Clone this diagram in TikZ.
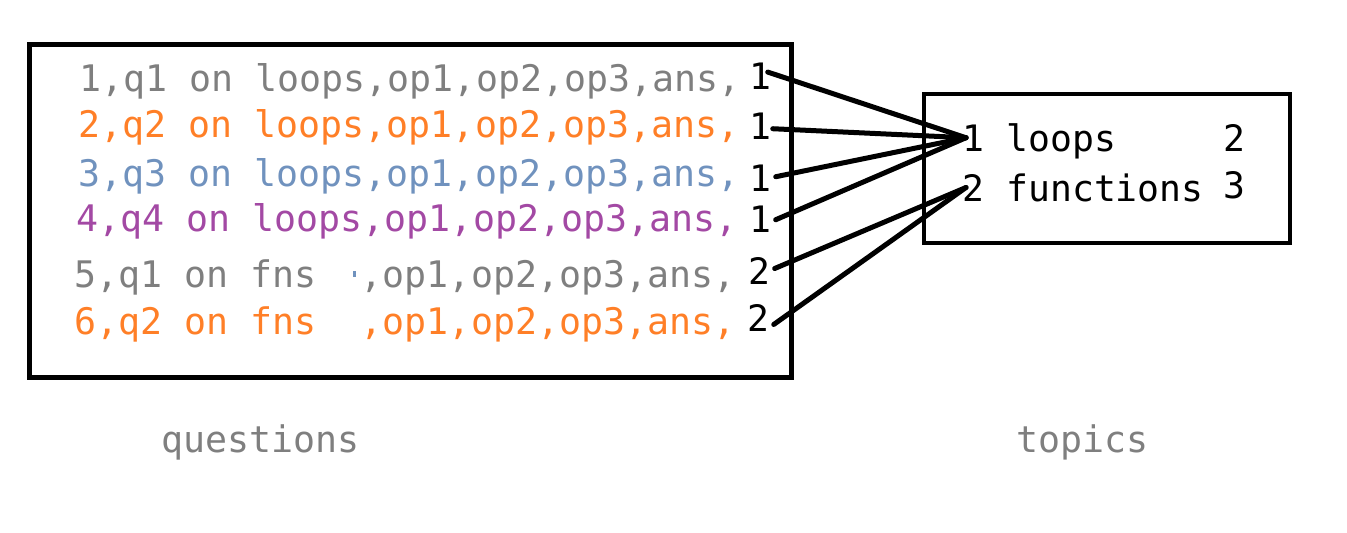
\documentclass[tikz,border=0pt]{standalone}
\usepackage{fontspec}
\newfontfamily\mono{DejaVu Sans Mono}
\definecolor{qgray}{HTML}{7F7F7F}
\definecolor{qorange}{HTML}{FF7F27}
\definecolor{qblue}{HTML}{7092BE}
\definecolor{qpurple}{HTML}{A349A4}
\tikzset{
  rowtext/.style={anchor=base west, inner sep=0pt, font=\mono\fontsize{18.3}{20}\selectfont},
  numtext/.style={anchor=base west, inner sep=0pt, font=\mono\fontsize{18.2}{20}\selectfont},
  lbltext/.style={anchor=base west, inner sep=0pt, text=qgray, font=\mono\fontsize{18.3}{20}\selectfont},
  framebox/.style={draw, line width=2.3pt, inner sep=0pt},
  link/.style={line width=2.5pt, line cap=round},
}
\begin{document}
\begin{tikzpicture}[x=0.5pt,y=-0.5pt]
\useasboundingbox (0,0) rectangle (1347,533);
% boxes
\node[framebox, minimum width=381pt, minimum height=166.5pt] (qbox) at (410.5,211) {};
\node[framebox, minimum width=183pt, minimum height=74.5pt] (tbox) at (1107,168.5) {};
% question rows
\node[rowtext, text=qgray]   (r1) at (79,92)  {1,q1 on loops,op1,op2,op3,ans,};
\node[rowtext, text=qorange] (r2) at (78,138) {2,q2 on loops,op1,op2,op3,ans,};
\node[rowtext, text=qblue]   (r3) at (78,187) {3,q3 on loops,op1,op2,op3,ans,};
\node[rowtext, text=qpurple] (r4) at (76,232) {4,q4 on loops,op1,op2,op3,ans,};
\node[rowtext, text=qgray]   (r5) at (74,288) {5,q1 on fns\ \ ,op1,op2,op3,ans,};
\node[rowtext, text=qorange] (r6) at (74,335) {6,q2 on fns\ \ ,op1,op2,op3,ans,};
\fill[qblue] (353,271) rectangle (356,277);
% topic ids of the questions
\node[numtext] (n1) at (749,90)  {1};
\node[numtext] (n2) at (749,140) {1};
\node[numtext] (n3) at (749,192) {1};
\node[numtext] (n4) at (749,233) {1};
\node[numtext] (n5) at (748,285) {2};
\node[numtext] (n6) at (747,332) {2};
% topics
\node[numtext] (t1id)   at (962,152)  {1};
\node[numtext] (t1name) at (1006,152) {loops};
\node[numtext] (t1cnt)  at (1223,152) {2};
\node[numtext] (t2id)   at (962,202)  {2};
\node[numtext] (t2name) at (1006,202) {functions};
\node[numtext] (t2cnt)  at (1223,199) {3};
% labels
\node[lbltext] (qlbl) at (161,452)  {questions};
\node[lbltext] (tlbl) at (1016,452) {topics};
% connectors
\draw[link] ([xshift=-2pt,yshift=-4.5pt]n1.north east) -- ([xshift=2pt,yshift=0.5pt]t1id.west);
\draw[link] ([xshift=0.5pt,yshift=-1pt]n2.east) -- ([xshift=2pt,yshift=0.5pt]t1id.west);
\draw[link] ([xshift=2pt,yshift=1pt]n3.east) -- ([xshift=2pt,yshift=0.5pt]t1id.west);
\draw[link] ([xshift=2pt]n4.east) -- ([xshift=2pt,yshift=0.5pt]t1id.west);
\draw[link] ([xshift=2pt,yshift=1.5pt]n5.east) -- ([xshift=2pt,yshift=0.5pt]t2id.west);
\draw[link] ([xshift=2pt,yshift=-3pt]n6.east) -- ([xshift=2pt,yshift=0.5pt]t2id.west);
\end{tikzpicture}
\end{document}
